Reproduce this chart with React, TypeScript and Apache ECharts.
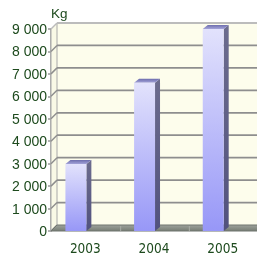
import React, { useEffect, useRef } from "react";
import * as echarts from "echarts";

const categories = ["2003", "2004", "2005"];
const values = [2980, 6600, 9000];
const yTicks = [0, 1000, 2000, 3000, 4000, 5000, 6000, 7000, 8000, 9000];
const yUnit = "Kg";

const D = 6; // wall depth offset (px)
const BDX = 5; // bar depth offset x
const BDY = 4; // bar depth offset y

export default function App() {
  const ref = useRef<HTMLDivElement>(null);
  useEffect(() => {
    if (!ref.current) return;
    const chart = echarts.init(ref.current, null, { renderer: "svg" });
    const fmt = (v: number) => String(v).replace(/\B(?=(\d{3})+(?!\d))/g, " ");
    chart.setOption({
      animation: false,
      grid: { left: 51, top: 29, width: 207, height: 202 },
      xAxis: {
        type: "category",
        data: categories,
        axisLine: { show: false },
        axisTick: { show: false },
        axisLabel: {
          margin: 10,
          color: "#1d4a1d",
          fontSize: 13.5,
          fontFamily: "'Liberation Sans Narrow', 'Arial Narrow', 'DejaVu Sans Condensed', sans-serif",
        },
        splitLine: { show: false },
      },
      yAxis: {
        type: "value",
        min: 0,
        max: 9000,
        interval: 1000,
        name: yUnit,
        nameLocation: "end",
        nameGap: 9,
        nameTextStyle: {
          color: "#1d4a1d",
          fontSize: 13.5,
          fontFamily: "'Liberation Sans', Arial, sans-serif",
          align: "left",
        },
        axisLine: { show: true, lineStyle: { color: "#9a9a9a", width: 1.5 } },
        axisTick: { show: true, length: 3, lineStyle: { color: "#9a9a9a", width: 1.5 } },
        axisLabel: {
          margin: 4,
          color: "#1d4a1d",
          fontSize: 14,
          fontFamily: "'Liberation Sans', Arial, sans-serif",
          formatter: fmt,
        },
        splitLine: { show: false },
      },
      series: [
        {
          type: "custom",
          z: 1,
          silent: true,
          data: [[0, 0]],
          renderItem: (params: any, api: any) => {
            const cs = params.coordSys;
            const L = cs.x, T = cs.y, R = cs.x + cs.width, B = cs.y + cs.height;
            const children: any[] = [];
            children.push({
              type: "rect",
              shape: { x: L + D, y: T - D, width: cs.width, height: cs.height },
              style: { fill: "#fdfdec" },
            });
            children.push({
              type: "polygon",
              shape: { points: [[L, T], [L + D, T - D], [L + D, B - D], [L, B]] },
              style: { fill: "#f9f9e6", stroke: "#a8a8a8", lineWidth: 1 },
            });
            yTicks.forEach((v) => {
              const y = api.coord([0, v])[1];
              const top = v === yTicks[yTicks.length - 1];
              const col = top ? "#bcbcbc" : "#8e8e8e";
              children.push({
                type: "line",
                shape: { x1: L, y1: y, x2: L + D, y2: y - D },
                style: { stroke: col, lineWidth: 1.5 },
              });
              if (v !== 0) {
                children.push({
                  type: "line",
                  shape: { x1: L + D, y1: y - D, x2: R + D, y2: y - D },
                  style: { stroke: col, lineWidth: top ? 2 : 1.8 },
                });
              }
            });
            children.push({
              type: "polygon",
              shape: { points: [[L, B], [L + D, B - D], [R + D, B - D], [R, B]] },
              style: {
                fill: new echarts.graphic.LinearGradient(0, 0, 0, 1, [
                  { offset: 0, color: "#9da29b" },
                  { offset: 1, color: "#767d74" },
                ]),
                stroke: "#6f746e",
                lineWidth: 1,
              },
            });
            const band = cs.width / categories.length;
            for (let i = 1; i < categories.length; i++) {
              const x = L + i * band + 1;
              children.push({
                type: "line",
                shape: { x1: x, y1: B - D + 1, x2: x, y2: B },
                style: { stroke: "#a9ada7", lineWidth: 1 },
              });
            }
            return { type: "group", children };
          },
        },
        {
          type: "custom",
          z: 3,
          data: values.map((v, i) => [i, v]),
          renderItem: (params: any, api: any) => {
            const idx = api.value(0);
            const [cx, cy] = api.coord([idx, api.value(1)]);
            const by = api.coord([idx, 0])[1];
            const band = api.size([1, 0])[0];
            const w = band * 0.305;
            const x1 = cx + band * 0.015;
            const x0 = x1 - w;
            return {
              type: "group",
              children: [
                {
                  type: "polygon",
                  shape: { points: [[x1, cy], [x1 + BDX, cy - BDY], [x1 + BDX, by - BDY], [x1, by]] },
                  style: {
                    fill: new echarts.graphic.LinearGradient(0, 0, 0, 1, [
                      { offset: 0, color: "#6c6c8e" },
                      { offset: 1, color: "#52527e" },
                    ]),
                  },
                },
                {
                  type: "polygon",
                  shape: { points: [[x0, cy], [x0 + BDX, cy - BDY], [x1 + BDX, cy - BDY], [x1, cy]] },
                  style: {
                    fill: new echarts.graphic.LinearGradient(0, 0, 0, 1, [
                      { offset: 0, color: "#6e6eae" },
                      { offset: 1, color: "#a4a4da" },
                    ]),
                  },
                },
                {
                  type: "rect",
                  shape: { x: x0, y: cy, width: w, height: by - cy },
                  style: {
                    fill: new echarts.graphic.LinearGradient(0, 0, 0, 1, [
                      { offset: 0, color: "#e2e2fc" },
                      { offset: 1, color: "#9797f7" },
                    ]),
                  },
                },
              ],
            };
          },
        },
      ],
    });
    return () => chart.dispose();
  }, []);
  return (
    <div
      ref={ref}
      style={{ position: "fixed", left: 0, top: 0, width: 257, height: 264 }}
    />
  );
}
